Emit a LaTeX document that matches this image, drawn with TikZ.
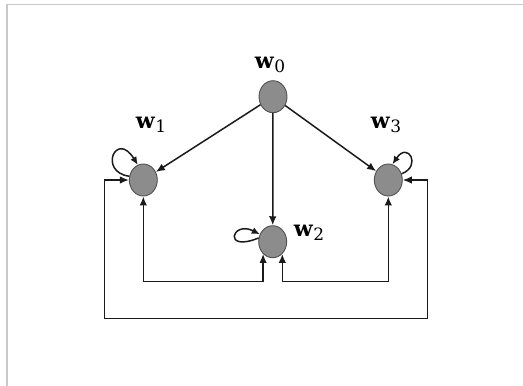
\documentclass[tikz,border=0pt]{standalone}
\usepackage{fontspec}
\setmainfont{DejaVu Serif}
\usetikzlibrary{shapes.geometric,arrows.meta}
\definecolor{nodefill}{HTML}{8C8C8C}
\definecolor{nodeedge}{HTML}{505050}
\definecolor{framegray}{HTML}{C8C8C8}
\definecolor{edgecol}{HTML}{1A1A1A}
\newcommand{\wlab}[1]{\fontsize{22}{24}\selectfont\textbf{w}\raisebox{-0.4ex}{\fontsize{17}{18}\selectfont #1}}
\tikzset{
  wnode/.style={ellipse,draw=nodeedge,fill=nodefill,line width=0.9pt,minimum width=28pt,minimum height=32pt,inner sep=0pt},
  wlabel/.style={inner sep=0pt,anchor=center},
  conn/.style={edgecol,line width=1.5pt,-{Latex[length=9pt,width=7.5pt]}},
  conn2/.style={edgecol,line width=1.5pt,{Latex[length=9pt,width=7.5pt]}-{Latex[length=9pt,width=7.5pt]}},
  selfloop/.style={edgecol,line width=1.5pt,-{Latex[length=8pt,width=7pt]}}
}
\begin{document}
\begin{tikzpicture}[x=1pt,y=-1pt]
\useasboundingbox (0,0) rectangle (523,386);
\draw[framegray,line width=1.3pt] (7,386) -- (7,4.7) -- (523,4.7);
\node[wnode] (w0) at (273,96.7) {};
\node[wnode] (w1) at (143.3,180) {};
\node[wnode] (w2) at (272.7,241.7) {};
\node[wnode] (w3) at (388.3,180) {};
\node[wlabel] (l0) at (270,65) {\wlab{0}};
\node[wlabel] (l1) at (151,125) {\wlab{1}};
\node[wlabel] (l2) at (309,233) {\wlab{2}};
\node[wlabel] (l3) at (386,125) {\wlab{3}};
\draw[conn] (w0) -- (w1);
\draw[conn] (w0) -- (w2);
\draw[conn] (w0) -- (w3);
\coordinate (ib) at (0,281.7);
\coordinate (ol) at (104.3,318.3);
\coordinate (or) at (427.3,318.3);
\draw[conn2] (w1.south) |- (w2.232 |- ib) -- (w2.232);
\draw[conn2] (w3.south) |- (w2.308 |- ib) -- (w2.308);
\draw[conn2] (w1.west) -| (ol) -- (or) |- (w3.east);
\draw[selfloop] (w1.165) .. controls (98,172) and (116,130) .. (w1.110);
\draw[selfloop] (w2.165) .. controls (222,253) and (232,220) .. (w2.150);
\draw[selfloop] (w3.25) .. controls (422,166) and (408,141) .. (w3.75);
\end{tikzpicture}
\end{document}
